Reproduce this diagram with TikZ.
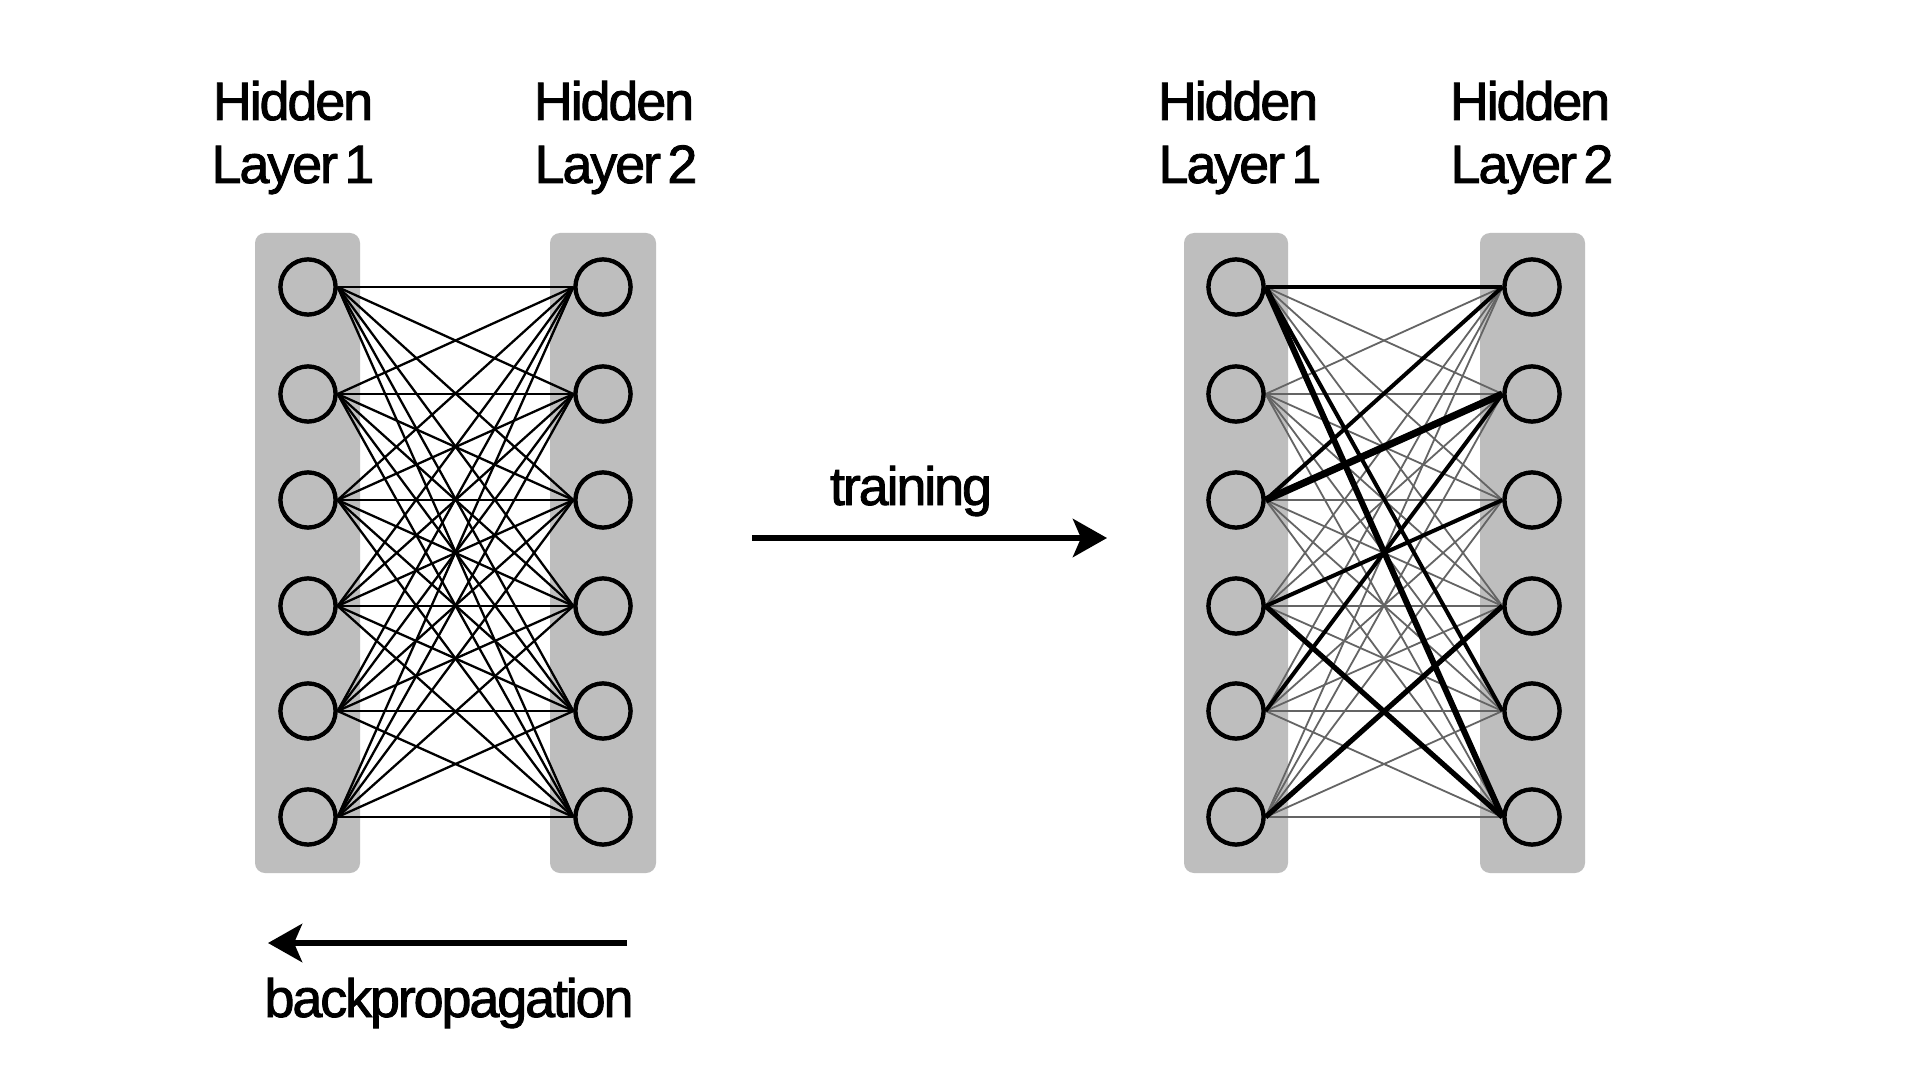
\documentclass[tikz,border=0pt]{standalone}
\usepackage{fontspec}
\setmainfont{Liberation Sans}[LetterSpace=-4, FakeBold=1.6]
\usetikzlibrary{arrows.meta}
\definecolor{boxgray}{RGB}{190,190,190}
\definecolor{edgegray}{RGB}{100,100,100}
\begin{document}
\begin{tikzpicture}[x=0.5pt,y=-0.5pt,
  layerbox/.style={fill=boxgray, rounded corners=5pt},
  neuron/.style={circle, draw=black, line width=2.1pt, fill=boxgray, minimum size=27.5pt, inner sep=0pt},
  edge/.style={black, line width=1.15pt},
  faint/.style={edgegray, line width=0.9pt},
  lbl/.style={font=\fontsize{27}{32}\selectfont, anchor=base, inner sep=0pt},
  bigarrow/.style={line width=3pt, -{Stealth[length=17pt, width=19pt, inset=4pt]}}]
\useasboundingbox (0,0) rectangle (1920,1080);
\fill[white] (0,0) rectangle (1920,1080);
% layer boxes
\fill[layerbox] (255,233) rectangle (360,873);
\fill[layerbox] (550,233) rectangle (656,873);
\fill[layerbox] (1184,233) rectangle (1288,873);
\fill[layerbox] (1480,233) rectangle (1585,873);
% neurons
\foreach \k/\y in {1/287,2/394,3/500,4/606,5/711,6/817}{
  \node[neuron] (a\k) at (308,\y) {};
  \node[neuron] (b\k) at (603,\y) {};
  \node[neuron] (c\k) at (1236,\y) {};
  \node[neuron] (d\k) at (1532,\y) {};
}
% left network edges
\foreach \i in {1,...,6}{
  \foreach \j in {1,...,6}{
    \draw[edge] (a\i.east) -- (b\j.west);
  }
}
% right network edges
\foreach \i in {1,...,6}{
  \foreach \j in {1,...,6}{
    \draw[faint] (c\i.east) -- (d\j.west);
  }
}
\foreach \i/\j/\w in {1/1/2.1,1/6/3.0,1/5/2.0,3/1/2.0,3/2/3.6,4/3/2.0,4/6/2.6,5/2/2.0,6/4/2.6}{
  \draw[black, line width=\w pt] (c\i.east) -- (d\j.west);
}
% redraw neurons on top
\foreach \k/\y in {1/287,2/394,3/500,4/606,5/711,6/817}{
  \node[neuron] at (308,\y) {};
  \node[neuron] at (603,\y) {};
  \node[neuron] at (1236,\y) {};
  \node[neuron] at (1532,\y) {};
}
% labels
\node[lbl] (h1a) at (293,120) {Hidden};
\node[lbl] (h1b) at (293,183) {Layer\hspace{0.12em}1};
\node[lbl] (h2a) at (614,120) {Hidden};
\node[lbl] (h2b) at (616,183) {Layer\hspace{0.12em}2};
\node[lbl] (h3a) at (1238,120) {Hidden};
\node[lbl] (h3b) at (1240,183) {Layer\hspace{0.12em}1};
\node[lbl] (h4a) at (1530,120) {Hidden};
\node[lbl] (h4b) at (1532,183) {Layer\hspace{0.12em}2};
% training arrow
\node[lbl] (train) at (911,505) {training};
\coordinate (ts) at (752,538);
\coordinate (te) at (1107,538);
\draw[bigarrow] (ts) -- (te);
% backpropagation arrow
\coordinate (bs) at (627,943);
\coordinate (be) at (268,943);
\draw[bigarrow] (bs) -- (be);
\node[lbl] (back) at (449,1017) {backpropagation};
\end{tikzpicture}
\end{document}
